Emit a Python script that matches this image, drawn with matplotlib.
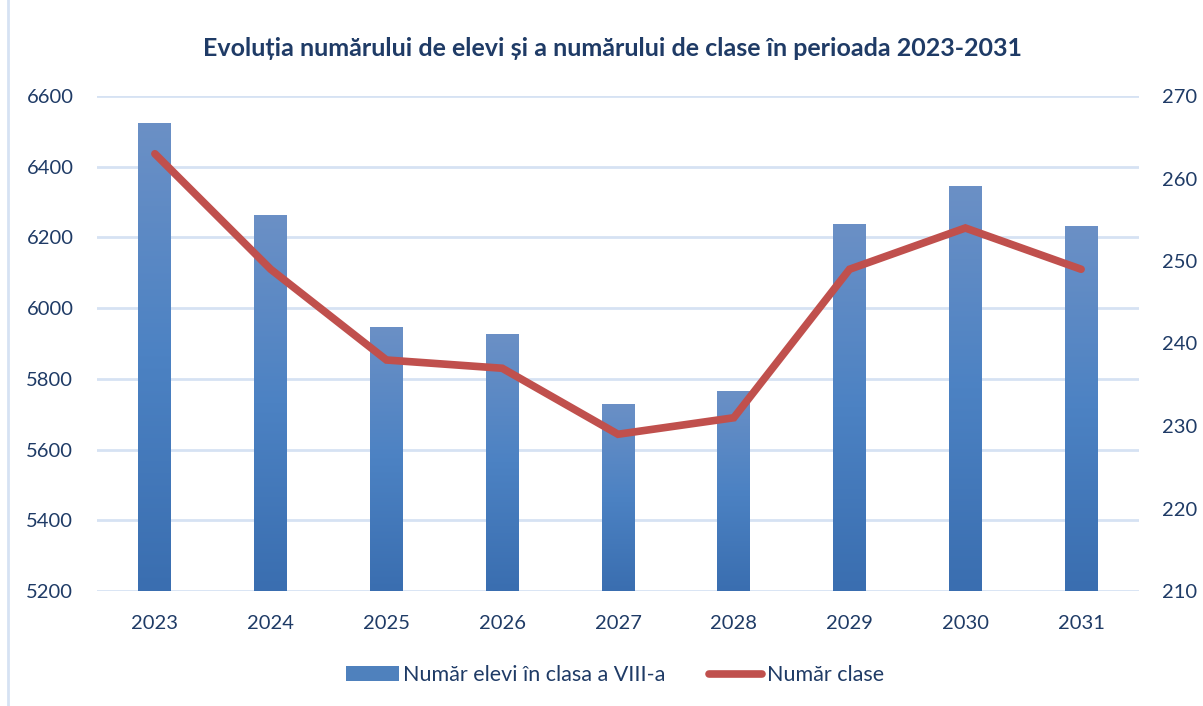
import matplotlib
matplotlib.use("Agg")
import matplotlib.pyplot as plt
import numpy as np
from matplotlib.colors import LinearSegmentedColormap
from matplotlib.lines import Line2D
from matplotlib.patches import Patch

years = ["2023", "2024", "2025", "2026", "2027", "2028", "2029", "2030", "2031"]
elevi = [6524, 6263, 5947, 5927, 5729, 5766, 6238, 6345, 6232]
clase = [263, 249, 238, 237, 229, 231, 249, 254, 249]

left_ticks = [5200, 5400, 5600, 5800, 6000, 6200, 6400, 6600]
right_ticks = [210, 220, 230, 240, 250, 260, 270]

title = "Evoluția numărului de elevi și a numărului de clase în perioada 2023-2031"
label_bar = "Număr elevi în clasa a VIII-a"
label_line = "Număr clase"

txt_color = "#1F3B66"
grid_color = "#D6E2F3"
line_color = "#C0504D"
font = "Lato"

fig = plt.figure(figsize=(12.03, 7.06), dpi=100)
ax = fig.add_axes([97/1203, 1 - 591/706, (1139-97)/1203, (591-96)/706])
ax2 = ax.twinx()

x = np.arange(len(years))
bw = 0.285
bars = ax.bar(x, elevi, width=bw, color="#4F81BD", zorder=2)

cmap = LinearSegmentedColormap.from_list("g", ["#3A6EB0", "#4C82C3", "#6B90C6"])
grad = np.linspace(0, 1, 256).reshape(-1, 1)
for b in bars:
    x0, w, h = b.get_x(), b.get_width(), b.get_height()
    im = ax.imshow(grad, cmap=cmap, origin="lower", aspect="auto",
                   extent=[x0, x0 + w, left_ticks[0], h], zorder=2.1)
    im.set_clip_path(b)

ax.set_xlim(-0.5, len(years) - 0.5)
ax.set_ylim(left_ticks[0], left_ticks[-1])
ax.set_yticks(left_ticks)
ax.set_xticks(x)
ax.set_xticklabels(years)
ax.grid(axis="y", color=grid_color, lw=2, zorder=0)
ax.set_axisbelow(True)

ax2.plot(x, clase, color=line_color, lw=5.5, solid_capstyle="round",
         solid_joinstyle="miter", zorder=3)
ax2.set_ylim(right_ticks[0], right_ticks[-1])
ax2.set_yticks(right_ticks)

for a in (ax, ax2):
    for s in a.spines.values():
        s.set_visible(False)
    a.tick_params(length=0, labelsize=14.5, labelcolor=txt_color)
    for t in a.get_xticklabels() + a.get_yticklabels():
        t.set_fontfamily(font)
ax.tick_params(axis="y", pad=17)
ax.tick_params(axis="x", pad=17)
ax2.tick_params(axis="y", pad=16.5)

fig.text(0.509, 1 - 48/706, title, ha="center", va="center", fontsize=18,
         fontweight="bold", color=txt_color, family=font)

handles = [Patch(facecolor="#4F81BD", edgecolor="none"),
           Line2D([0], [0], color=line_color, lw=5.5, solid_capstyle="round")]
fig.legend(handles, [label_bar, label_line], loc="center",
           bbox_to_anchor=(0.511, 1 - 675/706), ncol=2, frameon=False,
           prop={"family": font, "size": 15.5}, labelcolor=txt_color,
           handlelength=2.45, handletextpad=0.23, columnspacing=2.0,
           handleheight=0.65)

fig.add_artist(Line2D([8/1203, 8/1203], [0, 1], color=grid_color, lw=2,
                      transform=fig.transFigure))

fig.savefig("out.png", dpi=100)
